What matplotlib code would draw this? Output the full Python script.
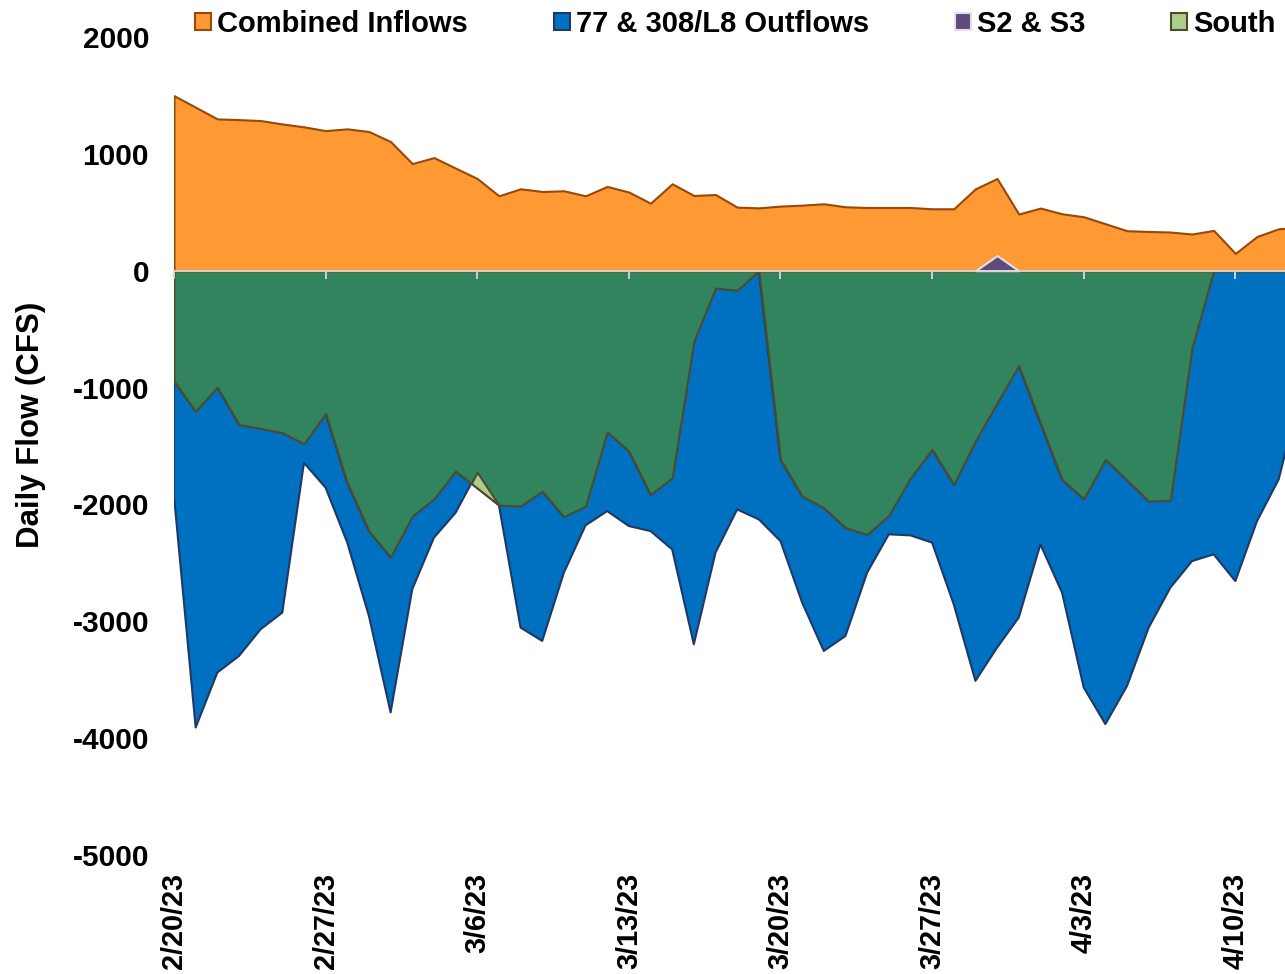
import matplotlib
matplotlib.use("Agg")
import matplotlib.pyplot as plt
import matplotlib.dates as mdates
from matplotlib.patches import Patch
import numpy as np
import pandas as pd

plt.rcParams['font.family'] = ['Liberation Sans', 'DejaVu Sans']

# ---------------- data (daily, 2/20/23 .. 4/13/23) ----------------
dates = pd.date_range('2023-02-20', '2023-04-13', freq='D')

combined_inflows = [1498, 1399, 1299, 1293, 1285, 1256, 1231, 1199, 1214,
                    1191, 1105, 917, 968, 878, 789, 641, 701, 678, 684, 641,
                    721, 673, 578, 744, 644, 652, 544, 538, 553, 561, 573,
                    547, 541, 541, 541, 530, 530, 701, 789, 485,
                    536, 487, 462, 402, 342, 336, 331, 314, 345, 148, 293,
                    359, 370]

s2_s3 = [0] * 38 + [130] + [0] * 14

# dark-green series (its legend entry lies beyond the cropped edge)
other_outflows = [-946, -1203, -997, -1316, -1350, -1387, -1481, -1222, -1815,
                  -2228, -2450, -2100, -1952, -1715, -1860, -2006, -2014, -1886,
                  -2105, -2014, -1379, -1544, -1915, -1772, -604, -148, -168, 0,
                  -1615, -1929, -2028, -2199, -2256, -2094, -1772, -1530,
                  -1829, -1459, -1131, -812,
                  -1302, -1786, -1952, -1615, -1792, -1972, -1963, -661, 0, 0,
                  0, 0, 0]

outflows_77_308 = [-983, -2706, -2442, -1981, -1718, -1539, -163, -635, -512,
                   -727, -1330, -626, -333, -356, 0, 0, -1040, -1282,
                   -479, -165, -678, -641, -313, -613, -2593, -2265, -1875, -2128,
                   -699, -911, -1226, -927, -328, -162, -493, -797,
                   -1026, -2051, -2094, -2156,
                   -1040, -969, -1615, -2265, -1761, -1082, -749, -1824, -2427,
                   -2656, -2143, -1786, -1050]

south = [0] * 14 + [135] + [0] * 38

tick_labels = ['2/20/23', '2/27/23', '3/6/23', '3/13/23', '3/20/23',
               '3/27/23', '4/3/23', '4/10/23']
y_ticks = [-5000, -4000, -3000, -2000, -1000, 0, 1000, 2000]

legend_labels = ['Combined Inflows', '77 & 308/L8 Outflows', 'S2 & S3', 'South']

# ---------------- colours ----------------
ORANGE, BROWN = '#FF9933', '#984807'
BLUE, NAVY = '#0070C0', '#1F3864'
DGREEN, OLIVE = '#32845E', '#4E4A2C'
LGREEN = '#ABCF86'
PURPLE, LAV = '#604A7B', '#E4DEEC'

# ---------------- figure ----------------
W, H = 1285, 974
fig = plt.figure(figsize=(W / 100, H / 100), dpi=100)
ax = fig.add_axes([174 / W, 119 / H, 1111 / W, 818 / H])

x = mdates.date2num(dates)
D = np.array(other_outflows, float)
B = D + np.array(outflows_77_308, float) + np.array(south, float)
inflow = np.array(combined_inflows, float)
s23 = np.array(s2_s3, float)

lw = 1.5
ax.fill_between(x, D, B, where=B <= D, interpolate=True, facecolor=BLUE,
                edgecolor=NAVY, linewidth=lw, zorder=1.0)
ax.fill_between(x, 0, D, facecolor=DGREEN, edgecolor=OLIVE, linewidth=lw,
                zorder=1.1)
ax.fill_between(x, D, B, where=B > D, interpolate=True, facecolor=LGREEN,
                edgecolor=OLIVE, linewidth=lw, zorder=1.2)
ax.fill_between(x, 0, inflow, facecolor=ORANGE, edgecolor=BROWN, linewidth=lw,
                zorder=1.3)
# purple bump spans neighbouring days
idx = np.nonzero(s23)[0]
sl = slice(max(idx.min() - 1, 0), idx.max() + 2)
ax.fill_between(x[sl], 0, s23[sl], facecolor=PURPLE, edgecolor=LAV,
                linewidth=lw, zorder=1.4)

# axes limits
ax.set_xlim(x[0], x[0] + 1111 / 21.66)
ax.set_ylim(-5000, 2000)

# zero axis line with outward ticks
for s in ['top', 'right', 'left']:
    ax.spines[s].set_visible(False)
ax.spines['bottom'].set_position(('data', 0))
ax.spines['bottom'].set_color('#D9D9D9')
ax.spines['bottom'].set_linewidth(1.3)
ax.spines['bottom'].set_zorder(5)
tick_pos = x[::7][:len(tick_labels)]
ax.set_xticks(tick_pos)
ax.tick_params(axis='x', direction='out', length=5.5, width=1.3,
               color='#D9D9D9', labelbottom=False)

# date labels at the bottom of the plot
sec = ax.secondary_xaxis('bottom')
sec.set_xticks(tick_pos, labels=tick_labels)
sec.tick_params(axis='x', length=0, pad=13, labelsize=20.8, rotation=90)
for lab in sec.get_xticklabels():
    lab.set_fontweight('bold')
sec.spines['bottom'].set_visible(False)

ax.set_yticks(y_ticks)
ax.set_yticklabels([str(v) for v in y_ticks])
ax.tick_params(axis='y', length=0, pad=18, labelsize=21.5)
for lab in ax.get_yticklabels():
    lab.set_fontweight('bold')

fig.text(31 / W, 1 - 425 / H, 'Daily Flow (CFS)', rotation=90, ha='center',
         va='center', fontsize=22.5, fontweight='bold')

handles = [Patch(facecolor=ORANGE, edgecolor=BROWN, linewidth=1.5),
           Patch(facecolor=BLUE, edgecolor=NAVY, linewidth=1.5),
           Patch(facecolor=PURPLE, edgecolor=LAV, linewidth=1.5),
           Patch(facecolor=LGREEN, edgecolor=OLIVE, linewidth=1.5)]
fig.legend(handles, legend_labels, loc='upper left',
           bbox_to_anchor=(195 / W, 1 - 10 / H), ncol=4, frameon=False,
           prop={'size': 21, 'weight': 'bold'}, handlelength=0.55,
           handleheight=0.55, handletextpad=0.2, columnspacing=2.95,
           borderpad=0, borderaxespad=0)

fig.savefig('out.png', dpi=100)
